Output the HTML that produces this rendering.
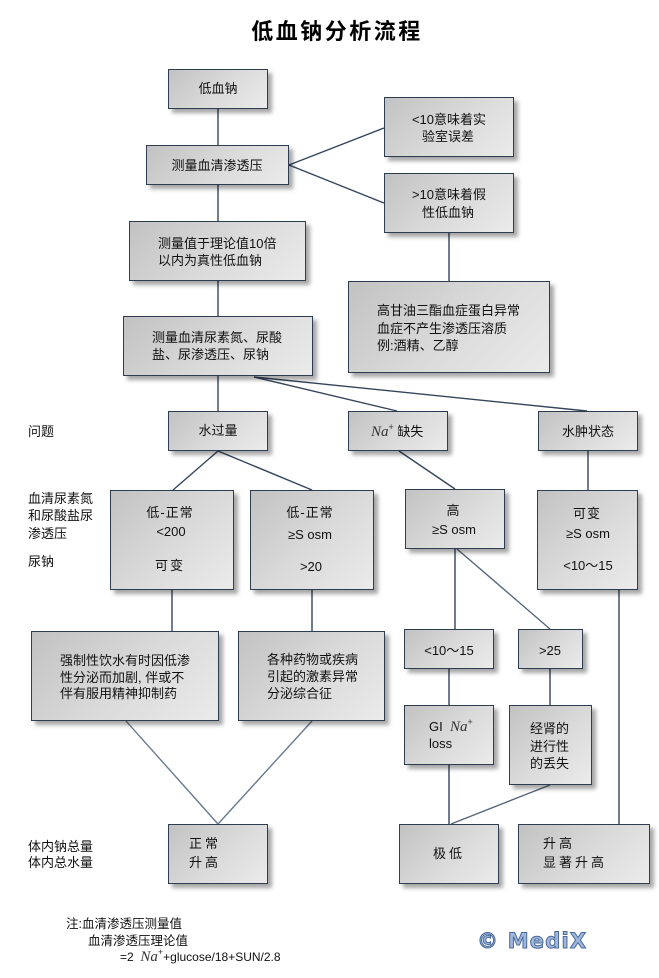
<!DOCTYPE html>
<html><head><meta charset="utf-8">
<style>
html,body{margin:0;padding:0;background:#fff;}
body{width:659px;height:978px;position:relative;overflow:hidden;font-family:"Liberation Sans","Noto Sans CJK SC",sans-serif;font-size:13px;color:#111;}
.b{position:absolute;box-sizing:border-box;border:1.5px solid #2e3d52;background:linear-gradient(135deg,#c2c2c2 0%,#d9d9d9 50%,#ebebeb 100%);box-shadow:4px 4px 4px rgba(0,0,0,0.35);}
.t{position:absolute;line-height:17px;height:17px;white-space:nowrap;}
.c{width:200px;text-align:center;}
.na{font-family:"Liberation Serif",serif;font-style:italic;font-size:15px;color:#333;line-height:0;}
.sp{font-size:9px;vertical-align:6px;color:#333;line-height:0;}
svg{position:absolute;left:0;top:0;}
</style></head><body>
<svg width="659" height="978" viewBox="0 0 659 978">
<g stroke="#34455c" stroke-width="1.4" fill="none">
<line x1="218" y1="109" x2="218" y2="145"/>
<line x1="218" y1="185" x2="218" y2="221"/>
<line x1="218" y1="281" x2="218" y2="316"/>
<line x1="289" y1="165" x2="384" y2="128"/>
<line x1="289" y1="165" x2="384" y2="203"/>
<line x1="449" y1="233" x2="449" y2="281"/>
<line x1="218" y1="376" x2="218" y2="411"/>
<line x1="254" y1="377" x2="397" y2="411"/>
<line x1="254" y1="377" x2="587" y2="411"/>
<line x1="218" y1="451" x2="173" y2="490"/>
<line x1="218" y1="451" x2="312" y2="490"/>
<line x1="399" y1="451" x2="455" y2="489"/>
<line x1="588" y1="451" x2="588" y2="490"/>
<line x1="172" y1="590" x2="172" y2="631"/>
<line x1="312" y1="590" x2="312" y2="631"/>
<line x1="126" y1="721" x2="218" y2="824" stroke="#6a7a8e"/>
<line x1="312" y1="721" x2="218" y2="824" stroke="#6a7a8e"/>
<line x1="455" y1="549" x2="455" y2="629"/>
<line x1="457" y1="549" x2="550" y2="629" stroke="#55667c"/>
<line x1="449" y1="669" x2="449" y2="705"/>
<line x1="550" y1="669" x2="550" y2="705"/>
<line x1="449" y1="765" x2="449" y2="824"/>
<line x1="550" y1="785" x2="451" y2="824" stroke="#55667c"/>
<line x1="619" y1="590" x2="619" y2="824"/>
</g>
</svg>

<div class="t" style="left:237px;top:16px;width:200px;text-align:center;font-size:22px;line-height:28px;height:28px;font-weight:bold;letter-spacing:2.5px;font-family:'Noto Sans CJK SC',sans-serif;color:#000;">低血钠分析流程</div>

<!-- boxes -->
<div class="b" style="left:168px;top:69px;width:100px;height:40px;"></div>
<div class="b" style="left:146px;top:145px;width:143px;height:40px;"></div>
<div class="b" style="left:129px;top:221px;width:177px;height:60px;"></div>
<div class="b" style="left:384px;top:97px;width:130px;height:60px;"></div>
<div class="b" style="left:384px;top:173px;width:130px;height:60px;"></div>
<div class="b" style="left:348px;top:281px;width:202px;height:92px;"></div>
<div class="b" style="left:123px;top:316px;width:190px;height:60px;"></div>
<div class="b" style="left:168px;top:411px;width:100px;height:40px;"></div>
<div class="b" style="left:348px;top:411px;width:100px;height:40px;"></div>
<div class="b" style="left:538px;top:411px;width:100px;height:40px;"></div>
<div class="b" style="left:110px;top:490px;width:124px;height:100px;"></div>
<div class="b" style="left:250px;top:490px;width:124px;height:100px;"></div>
<div class="b" style="left:405px;top:489px;width:100px;height:60px;"></div>
<div class="b" style="left:537px;top:490px;width:101px;height:100px;"></div>
<div class="b" style="left:31px;top:631px;width:188px;height:90px;"></div>
<div class="b" style="left:238px;top:631px;width:147px;height:90px;"></div>
<div class="b" style="left:404px;top:629px;width:90px;height:40px;"></div>
<div class="b" style="left:518px;top:629px;width:65px;height:40px;"></div>
<div class="b" style="left:404px;top:705px;width:90px;height:60px;"></div>
<div class="b" style="left:509px;top:705px;width:83px;height:80px;"></div>
<div class="b" style="left:168px;top:824px;width:100px;height:60px;"></div>
<div class="b" style="left:399px;top:824px;width:100px;height:60px;"></div>
<div class="b" style="left:518px;top:824px;width:132px;height:60px;"></div>

<!-- texts -->
<div class="t c" style="left:118px;top:80px;">低血钠</div>
<div class="t c" style="left:117px;top:157px;">测量血清渗透压</div>
<div class="t" style="left:158px;top:235px;">测量值于理论值10倍</div>
<div class="t" style="left:158px;top:252px;">以内为真性低血钠</div>
<div class="t c" style="left:349px;top:111px;">&lt;10意味着实</div>
<div class="t c" style="left:348px;top:128px;">验室误差</div>
<div class="t c" style="left:349px;top:186px;">&gt;10意味着假</div>
<div class="t c" style="left:348px;top:204px;">性低血钠</div>
<div class="t" style="left:377px;top:302px;">高甘油三酯血症蛋白异常</div>
<div class="t" style="left:377px;top:320px;">血症不产生渗透压溶质</div>
<div class="t" style="left:377px;top:337px;">例:酒精、乙醇</div>
<div class="t" style="left:152px;top:329px;">测量血清尿素氮、尿酸</div>
<div class="t" style="left:152px;top:346px;">盐、尿渗透压、尿钠</div>
<div class="t c" style="left:118px;top:422px;">水过量</div>
<div class="t" style="left:371px;top:423px;"><span class="na">Na</span><span class="sp">+</span> 缺失</div>
<div class="t c" style="left:488px;top:423px;">水肿状态</div>

<div class="t" style="left:28px;top:423px;">问题</div>
<div class="t" style="left:28px;top:490px;">血清尿素氮</div>
<div class="t" style="left:28px;top:507px;">和尿酸盐尿</div>
<div class="t" style="left:28px;top:525px;">渗透压</div>
<div class="t" style="left:28px;top:553px;">尿钠</div>

<div class="t c" style="left:70px;top:504px;letter-spacing:1px;">低-正常</div>
<div class="t c" style="left:71px;top:523px;">&lt;200</div>
<div class="t c" style="left:70px;top:557px;letter-spacing:2px;">可变</div>
<div class="t c" style="left:210px;top:504px;letter-spacing:1px;">低-正常</div>
<div class="t c" style="left:210px;top:526px;">≥S osm</div>
<div class="t c" style="left:211px;top:558px;">&gt;20</div>
<div class="t c" style="left:353px;top:502px;">高</div>
<div class="t c" style="left:354px;top:521px;">≥S osm</div>
<div class="t c" style="left:487px;top:505px;letter-spacing:1px;">可变</div>
<div class="t c" style="left:488px;top:525px;">≥S osm</div>
<div class="t c" style="left:488px;top:557px;">&lt;10～15</div>

<div class="t" style="left:60px;top:652px;">强制性饮水有时因低渗</div>
<div class="t" style="left:60px;top:669px;">性分泌而加剧, 伴或不</div>
<div class="t" style="left:60px;top:685px;">伴有服用精神抑制药</div>
<div class="t" style="left:267px;top:651px;">各种药物或疾病</div>
<div class="t" style="left:267px;top:668px;">引起的激素异常</div>
<div class="t" style="left:267px;top:685px;">分泌综合征</div>

<div class="t c" style="left:349px;top:642px;">&lt;10～15</div>
<div class="t c" style="left:450px;top:642px;">&gt;25</div>
<div class="t" style="left:429px;top:718px;">GI&nbsp; <span class="na">Na</span><span class="sp">+</span></div>
<div class="t" style="left:429px;top:735px;">loss</div>
<div class="t" style="left:530px;top:720px;">经肾的</div>
<div class="t" style="left:530px;top:738px;">进行性</div>
<div class="t" style="left:530px;top:755px;">的丢失</div>

<div class="t" style="left:189px;top:835px;letter-spacing:3px;">正常</div>
<div class="t" style="left:189px;top:854px;letter-spacing:3px;">升高</div>
<div class="t" style="left:433px;top:845px;letter-spacing:3px;">极低</div>
<div class="t" style="left:543px;top:835px;letter-spacing:3px;">升高</div>
<div class="t" style="left:543px;top:854px;letter-spacing:3px;">显著升高</div>
<div class="t" style="left:28px;top:838px;">体内钠总量</div>
<div class="t" style="left:28px;top:854px;">体内总水量</div>

<div class="t" style="left:66px;top:916px;font-size:12.5px;">注:血清渗透压测量值</div>
<div class="t" style="left:88px;top:933px;font-size:12.5px;">血清渗透压理论值</div>
<div class="t" style="left:120px;top:949px;font-size:12px;">=2&nbsp; <span class="na">Na</span><span class="sp">+</span>+glucose/18+SUN/2.8</div>

<div class="t" style="left:477px;top:928px;height:26px;line-height:26px;font-family:'DejaVu Sans',sans-serif;font-weight:bold;font-size:21px;color:#9fb7db;-webkit-text-stroke:1px #4a6b9c;letter-spacing:1.2px;">© MediX</div>
</body></html>
